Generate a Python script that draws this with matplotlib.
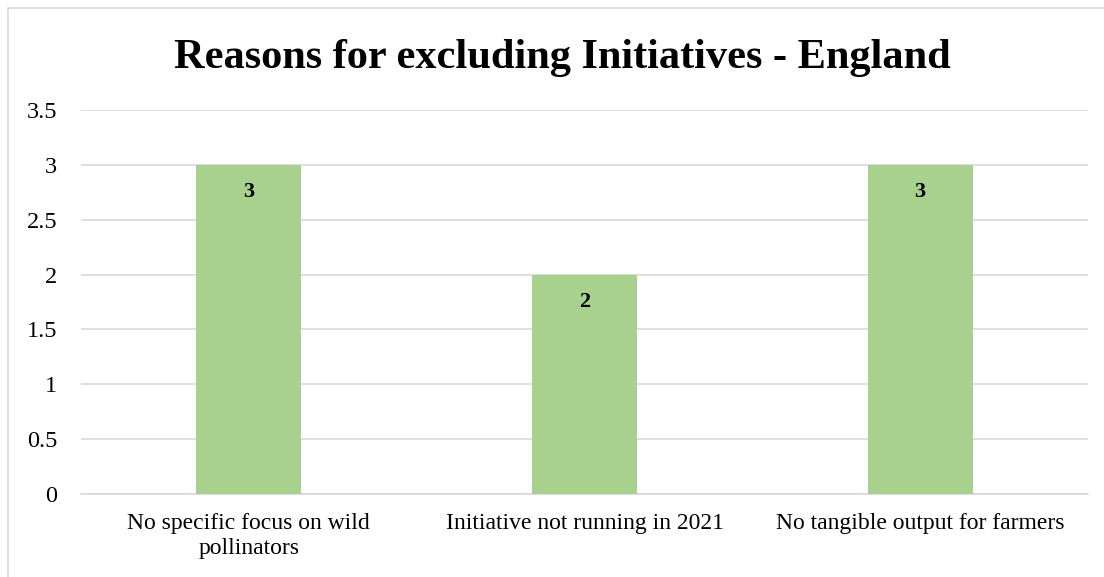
import matplotlib.pyplot as plt
from matplotlib.patches import Rectangle

# Reasons and how many initiatives were dropped for each
reasons = ['No specific focus on wild\npollinators',
           'Initiative not running in 2021',
           'No tangible output for farmers']
counts = [3, 2, 3]
yticks = [0, 0.5, 1, 1.5, 2, 2.5, 3, 3.5]
ytick_labels = ['0', '0.5', '1', '1.5', '2', '2.5', '3', '3.5']

plt.rcParams['font.family'] = ['Liberation Serif', 'DejaVu Serif']

W, H = 1104, 577
fig = plt.figure(figsize=(W / 100, H / 100), dpi=100)

# light frame of the chart area (top and left edges visible)
fig.patches.append(Rectangle((8 / W, -0.1), 1.2, 1 - 8 / H + 0.1,
                             transform=fig.transFigure, fill=False,
                             edgecolor='#D9D9D9', linewidth=1.2))

ax = fig.add_axes([81 / W, 1 - 494 / H, (1088 - 81) / W, (494 - 110) / H])

x = range(len(reasons))
ax.bar(x, counts, width=0.313, color='#A9D18E', zorder=3)

for xi, v in zip(x, counts):
    ax.annotate(str(v), (xi, v), xytext=(0, -27), textcoords='offset pixels',
                ha='center', va='center', fontsize=16, fontweight='bold',
                zorder=4)

ax.set_xlim(-0.5, 2.5)
ax.set_ylim(0, 3.5)
ax.set_yticks(yticks)
ax.set_yticklabels(ytick_labels, fontsize=17.5)
ax.set_xticks(list(x))
ax.set_xticklabels(reasons, fontsize=17, linespacing=1.22)
ax.tick_params(axis='both', length=0)
ax.tick_params(axis='y', pad=17)
ax.tick_params(axis='x', pad=14)

ax.grid(axis='y', color='#D9D9D9', linewidth=1.2, zorder=0)
for side in ['top', 'right', 'left']:
    ax.spines[side].set_visible(False)
ax.spines['bottom'].set_color('#D9D9D9')
ax.spines['bottom'].set_linewidth(1.2)
ax.set_axisbelow(True)

fig.text(562 / W, 1 - 68 / H, 'Reasons for excluding Initiatives - England',
         ha='center', va='baseline', fontsize=30.5, fontweight='bold')

fig.savefig('out.png', dpi=100)
